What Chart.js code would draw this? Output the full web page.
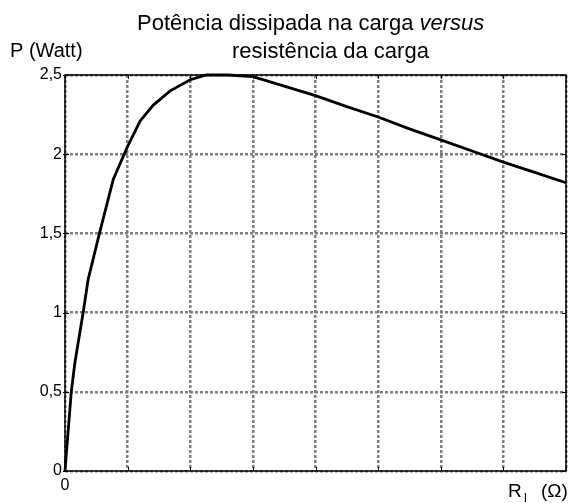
<!DOCTYPE html>
<html>
<head>
<meta charset="utf-8">
<script src="https://cdn.jsdelivr.net/npm/chart.js@4"></script>
<style>
  html, body { margin: 0; padding: 0; background: #fff; }
  #wrap { width: 572px; height: 503px; }
</style>
</head>
<body>
<div id="wrap"><canvas id="chart" width="572" height="503"></canvas></div>
<script>
// R_L in grid divisions (the x axis has no unit labels apart from 0)
var resistance = [0, 0.1, 0.16, 0.29, 0.37, 0.55, 0.77, 1.0, 1.2, 1.41, 1.68, 2.0, 2.26, 2.6, 3.0, 3.5, 4.0, 4.5, 5.0, 5.5, 6.0, 6.5, 7.0, 7.5, 8.0];
var power = [0, 0.5, 0.69, 1.0, 1.21, 1.5, 1.84, 2.05, 2.21, 2.31, 2.40, 2.47, 2.50, 2.50, 2.49, 2.43, 2.37, 2.30, 2.235, 2.16, 2.09, 2.02, 1.95, 1.885, 1.82];

var yTickLabels = ['0', '0,5', '1', '1,5', '2', '2,5'];
var xTickLabels = ['0'];

var titleLine1 = 'Potência dissipada na carga ';
var titleItalic = 'versus';
var titleLine2 = 'resistência da carga';
var yAxisTitle = 'P (Watt)';

var FONT = '"Liberation Sans", Arial, sans-serif';

var points = resistance.map(function (r, i) { return { x: r, y: power[i] }; });

// frame, inward tick marks and all the free text
var decorations = {
    id: 'decorations',
    beforeDatasetsDraw: function (chart) {
        var ctx = chart.ctx;
        var a = chart.chartArea;
        var xs = chart.scales.x, ys = chart.scales.y;
        ctx.save();
        ctx.strokeStyle = '#000';
        ctx.lineWidth = 1.5;
        ctx.strokeRect(a.left, a.top, a.right - a.left, a.bottom - a.top);
        ctx.lineWidth = 1;
        ctx.beginPath();
        xs.ticks.forEach(function (t) {
            var px = Math.round(xs.getPixelForValue(t.value)) + 0.5;
            ctx.moveTo(px, a.bottom); ctx.lineTo(px, a.bottom - 4);
            ctx.moveTo(px, a.top); ctx.lineTo(px, a.top + 4);
        });
        ys.ticks.forEach(function (t) {
            var py = Math.round(ys.getPixelForValue(t.value)) + 0.5;
            ctx.moveTo(a.left - 2, py); ctx.lineTo(a.left + 4, py);
            ctx.moveTo(a.right, py); ctx.lineTo(a.right - 4, py);
        });
        ctx.stroke();
        ctx.restore();
    },
    afterDraw: function (chart) {
        var ctx = chart.ctx;
        ctx.save();
        ctx.fillStyle = '#000';
        ctx.textBaseline = 'alphabetic';
        ctx.textAlign = 'left';

        ctx.font = '22px ' + FONT;
        ctx.fillText(titleLine1, 137, 30);
        var w1 = ctx.measureText(titleLine1).width;
        ctx.font = 'italic 22px ' + FONT;
        ctx.fillText(titleItalic, 137 + w1, 30);

        ctx.font = '22px ' + FONT;
        ctx.fillText(titleLine2, 232, 58);

        ctx.font = '20px ' + FONT;
        ctx.fillText(yAxisTitle, 10, 57);

        // R_L (Ω)
        ctx.font = '19px ' + FONT;
        ctx.fillText('R', 508, 497);
        ctx.font = '13px ' + FONT;
        ctx.fillText('l', 524, 502);
        ctx.font = '19px ' + FONT;
        ctx.fillText('(Ω)', 541, 497);
        ctx.restore();
    }
};

new Chart(document.getElementById('chart'), {
    type: 'line',
    data: {
        datasets: [{
            data: points,
            borderColor: '#000',
            borderWidth: 2.8,
            pointRadius: 0,
            tension: 0,
            fill: false,
            clip: false
        }]
    },
    options: {
        responsive: false,
        animation: false,
        layout: { padding: { left: 0, right: 6, top: 75, bottom: 0 } },
        plugins: {
            legend: { display: false },
            title: { display: false },
            tooltip: { enabled: false }
        },
        scales: {
            x: {
                type: 'linear',
                min: 0,
                max: 8,
                afterFit: function (scale) { scale.height = 32; },
                ticks: {
                    stepSize: 1,
                    padding: 5,
                    color: '#000',
                    font: { family: FONT, size: 16 },
                    maxRotation: 0,
                    autoSkip: false,
                    callback: function (v, i) { return i < xTickLabels.length ? xTickLabels[i] : ''; }
                },
                grid: { color: '#7f7f7f', lineWidth: 2.5, drawTicks: false },
                border: { display: false, dash: [3, 2] }
            },
            y: {
                min: 0,
                max: 2.5,
                afterFit: function (scale) { scale.width = 65; },
                ticks: {
                    stepSize: 0.5,
                    padding: 3,
                    color: '#000',
                    font: { family: FONT, size: 16 },
                    callback: function (v, i) { return yTickLabels[i]; }
                },
                grid: { color: '#7f7f7f', lineWidth: 2.5, drawTicks: false },
                border: { display: false, dash: [3, 2] }
            }
        }
    },
    plugins: [decorations]
});
</script>
</body>
</html>
